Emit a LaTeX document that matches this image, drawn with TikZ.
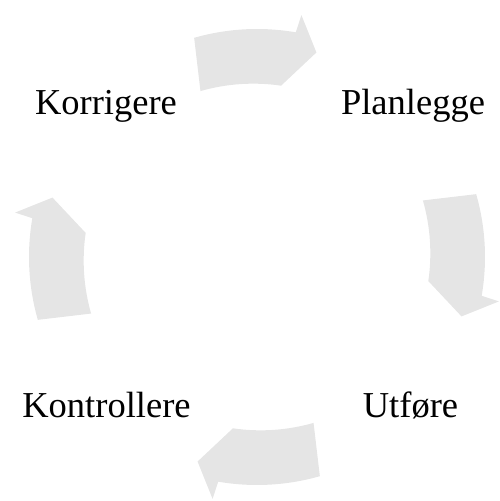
\documentclass[tikz,border=0pt]{standalone}
\usepackage{fontspec}
\setmainfont{Liberation Serif}
\usepackage{tikz}

\begin{document}
\begin{tikzpicture}[x=1pt,y=1pt,
  steplabel/.style={anchor=base,inner sep=0pt,font=\fontsize{36.5}{40}\selectfont},
  cyclearrow/.style={fill=black!10,draw=none}]
\useasboundingbox (0,0) rectangle (499,501);

% the four steps
\node[steplabel] (planlegge) at (413,386) {Planlegge};
\node[steplabel] (utfore) at (410.5,83) {Utføre};
\node[steplabel] (kontrollere) at (106.5,83) {Kontrollere};
\node[steplabel] (korrigere) at (106,386) {Korrigere};

% curved block arrows, clockwise round the centre
\begin{scope}[shift={(257,244)}]
\foreach \c in {90,0,-90,180}{
  \path[cyclearrow] (\c+16:228pt) arc[start angle=\c+16,end angle=\c-9.8,radius=228pt]
    -- (\c-10.4:246pt) -- (\c-16.2:213pt) -- (\c-8:173pt)
    arc[start angle=\c-8.3,end angle=\c+16,radius=192pt] -- cycle;
}
\end{scope}
\end{tikzpicture}
\end{document}
